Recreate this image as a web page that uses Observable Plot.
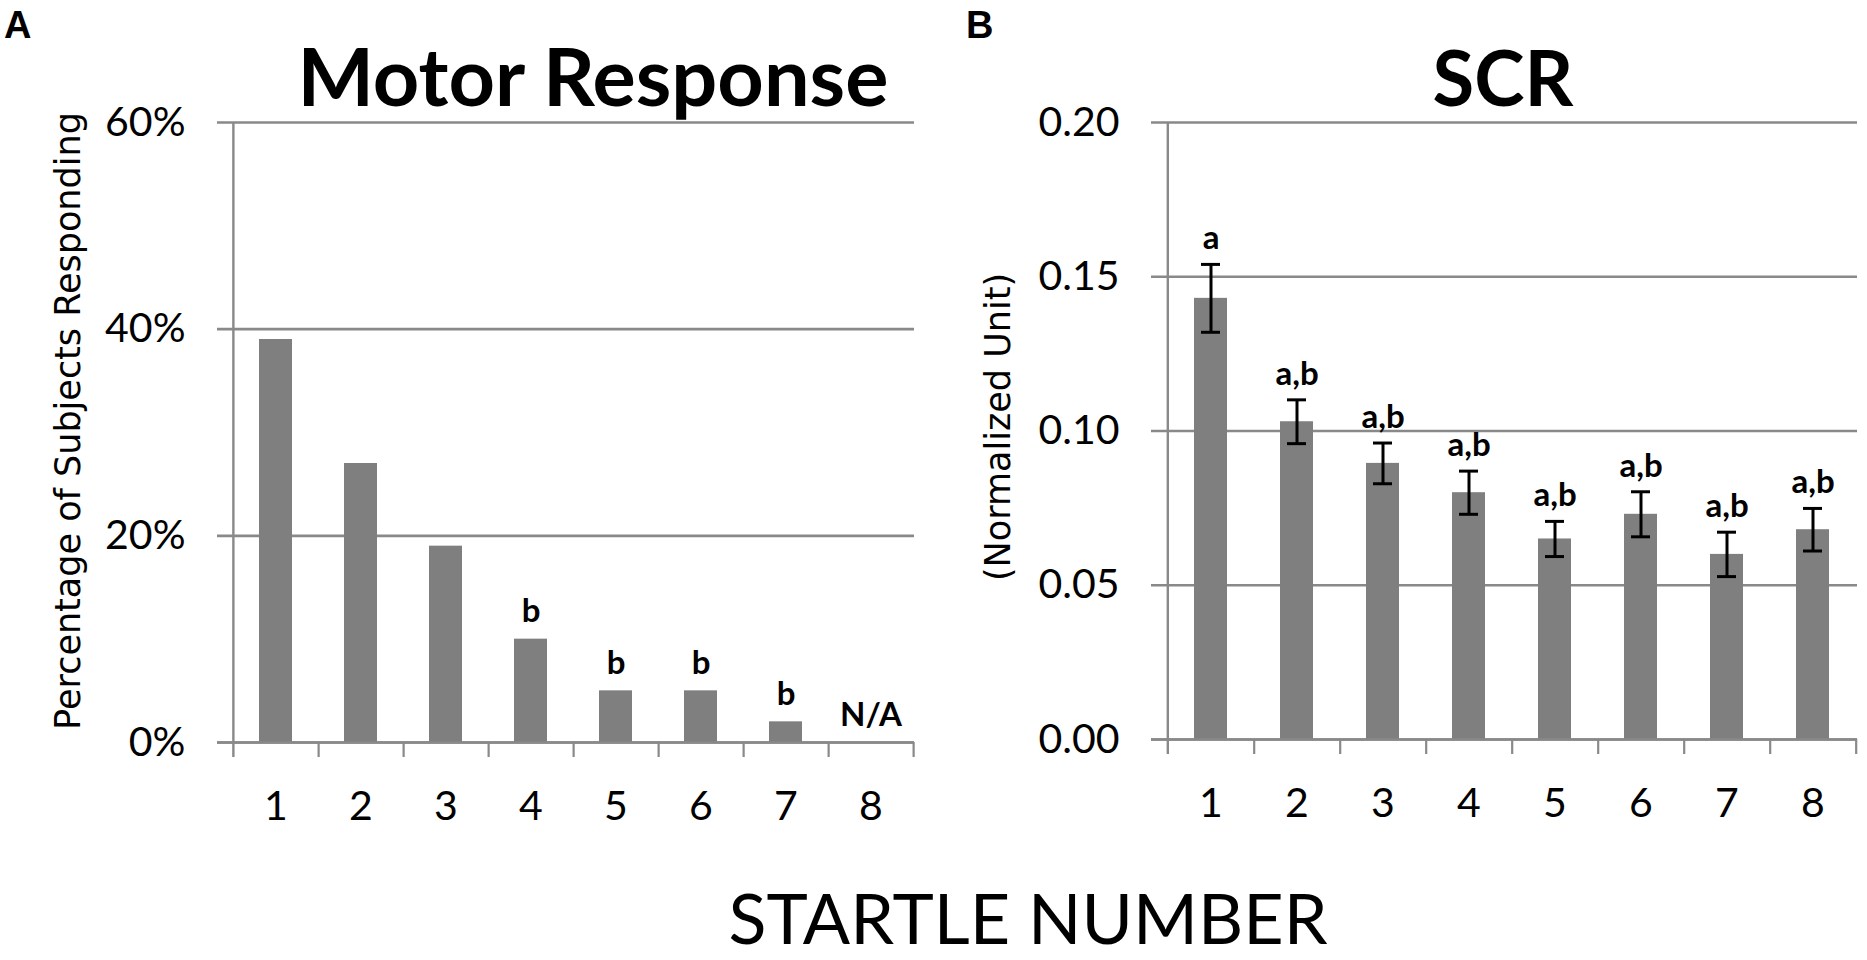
<!DOCTYPE html>
<html>
<head>
<meta charset="utf-8">
<script src="https://cdn.jsdelivr.net/npm/d3@7"></script>
<script src="https://cdn.jsdelivr.net/npm/@observablehq/plot@0.6"></script>
<style>
  html, body { margin: 0; padding: 0; background: #fff; }
  #root { position: relative; width: 1867px; height: 960px; overflow: hidden; background: #fff; }
  #overlay { position: absolute; left: 0; top: 0; }
</style>
</head>
<body>
<div id="root"></div>
<script>
// ---------- data ----------
const startle = [1, 2, 3, 4, 5, 6, 7, 8];

// Panel A: Motor Response (% of subjects responding)
const motorPct = [39, 27, 19, 10, 5, 5, 2, 0];
const motorLabels = ["", "", "", "b", "b", "b", "b", "N/A"];
const motorTicks = [0, 20, 40, 60];

// Panel B: SCR (normalized unit), mean and error
const scrMean = [0.143, 0.103, 0.0895, 0.080, 0.065, 0.073, 0.060, 0.068];
const scrErr = [0.011, 0.0071, 0.0066, 0.0070, 0.0057, 0.0073, 0.0072, 0.0069];
const scrLabels = ["a", "a,b", "a,b", "a,b", "a,b", "a,b", "a,b", "a,b"];
const scrTicks = [0, 0.05, 0.10, 0.15, 0.20];

// ---------- styling ----------
const gridColor = "#898989";
const barColor = "#7f7f7f";
const tickFont = 41;
const labelFont = 33;

const motorData = startle.map((n, i) => ({n, v: motorPct[i], label: motorLabels[i]}));
const scrData = startle.map((n, i) => ({n, v: scrMean[i], lo: scrMean[i] - scrErr[i], hi: scrMean[i] + scrErr[i], label: scrLabels[i]}));

const root = document.getElementById("root");

// ---------- Panel A ----------
{
  const width = 934, height = 840, mL = 232, mR = 20, mT = 122, mB = 98;
  const step = (width - mL - mR) / startle.length;
  const plot = Plot.plot({
    width, height,
    marginLeft: mL, marginRight: mR, marginTop: mT, marginBottom: mB,
    style: {position: "absolute", left: "0px", top: "0px", background: "transparent", fontFamily: "Lato", color: "#000", overflow: "visible"},
    x: {type: "band", domain: startle, paddingInner: 0.616, paddingOuter: 0.308},
    y: {domain: [0, 60]},
    marks: [
      Plot.ruleY(motorTicks, {y: d => d, stroke: gridColor, strokeWidth: 2.6, insetLeft: -15}),
      Plot.barY(motorData, {x: "n", y: "v", fill: barColor}),
      Plot.ruleY([0], {y: d => d, stroke: gridColor, strokeWidth: 2.6, insetLeft: -15}),
      Plot.ruleX([startle[0]], {x: d => d, y1: 60, y2: 0, dx: -step / 2, stroke: gridColor, strokeWidth: 2.4, insetBottom: -15}),
      Plot.ruleX(startle, {x: d => d, y1: 0, y2: 0, dx: step / 2, stroke: gridColor, strokeWidth: 2.2, insetBottom: -15}),
      Plot.text(motorData.filter(d => d.label), {x: "n", y: "v", text: "label", dy: -17, lineAnchor: "bottom", fontWeight: "bold", fontSize: labelFont, fontFamily: "Lato", fill: "#000"}),
      Plot.axisY({ticks: motorTicks, tickSize: 0, tickPadding: 47, tickFormat: d => d + "%", fontSize: tickFont, fontFamily: "Lato", label: null}),
      Plot.axisX({tickSize: 0, tickPadding: 48, fontSize: tickFont, fontFamily: "Lato", label: null})
    ]
  });
  root.appendChild(plot);
}

// ---------- Panel B ----------
{
  const width = 933, height = 840, mL = 232, mR = 10, mT = 122, mB = 101;
  const step = (width - mL - mR) / startle.length;
  const plot = Plot.plot({
    width, height,
    marginLeft: mL, marginRight: mR, marginTop: mT, marginBottom: mB,
    style: {position: "absolute", left: "934px", top: "0px", background: "transparent", fontFamily: "Lato", color: "#000", overflow: "visible"},
    x: {type: "band", domain: startle, paddingInner: 0.616, paddingOuter: 0.308},
    y: {domain: [0, 0.2]},
    marks: [
      Plot.ruleY(scrTicks, {y: d => d, stroke: gridColor, strokeWidth: 2.6, insetLeft: -15}),
      Plot.barY(scrData, {x: "n", y: "v", fill: barColor}),
      Plot.ruleY([0], {y: d => d, stroke: gridColor, strokeWidth: 2.6, insetLeft: -15}),
      Plot.ruleX([startle[0]], {x: d => d, y1: 0.2, y2: 0, dx: -step / 2, stroke: gridColor, strokeWidth: 2.4, insetBottom: -15}),
      Plot.ruleX(startle, {x: d => d, y1: 0, y2: 0, dx: step / 2, stroke: gridColor, strokeWidth: 2.2, insetBottom: -15}),
      Plot.ruleX(scrData, {x: "n", y1: "lo", y2: "hi", stroke: "#000", strokeWidth: 3}),
      Plot.tickY(scrData, {x: "n", y: "hi", stroke: "#000", strokeWidth: 3, inset: 7}),
      Plot.tickY(scrData, {x: "n", y: "lo", stroke: "#000", strokeWidth: 3, inset: 7}),
      Plot.text(scrData, {x: "n", y: "hi", text: "label", dy: -15, lineAnchor: "bottom", fontWeight: "bold", fontSize: labelFont, fontFamily: "Lato", fill: "#000"}),
      Plot.axisY({ticks: scrTicks, tickSize: 0, tickPadding: 47, tickFormat: d3.format(".2f"), fontSize: tickFont, fontFamily: "Lato", label: null}),
      Plot.axisX({tickSize: 0, tickPadding: 48, fontSize: tickFont, fontFamily: "Lato", label: null})
    ]
  });
  root.appendChild(plot);
}

// ---------- titles & labels ----------
const NS = "http://www.w3.org/2000/svg";
const overlay = document.createElementNS(NS, "svg");
overlay.setAttribute("id", "overlay");
overlay.setAttribute("width", 1867);
overlay.setAttribute("height", 960);
function addText(str, attrs) {
  const t = document.createElementNS(NS, "text");
  for (const [k, v] of Object.entries(attrs)) t.setAttribute(k, v);
  t.textContent = str;
  overlay.appendChild(t);
}
addText("A", {x: 4, y: 38, "font-family": "Liberation Sans, Arial, sans-serif", "font-weight": "bold", "font-size": 38});
addText("B", {x: 966, y: 38, "font-family": "Liberation Sans, Arial, sans-serif", "font-weight": "bold", "font-size": 38});
addText("Motor Response", {x: 593, y: 106, "text-anchor": "middle", "font-family": "Lato", "font-weight": "bold", "font-size": 81});
addText("SCR", {x: 1503, y: 106, "text-anchor": "middle", "font-family": "Lato", "font-weight": "bold", "font-size": 76});
addText("STARTLE NUMBER", {x: 1028, y: 944, "text-anchor": "middle", "font-family": "Lato", "font-size": 70});
addText("Percentage of Subjects Responding", {transform: "translate(80,421) rotate(-90)", "text-anchor": "middle", "font-family": "DejaVu Sans", "font-size": 35});
addText("(Normalized Unit)", {transform: "translate(1010,427) rotate(-90)", "text-anchor": "middle", "font-family": "DejaVu Sans", "font-size": 35});
root.appendChild(overlay);
</script>
</body>
</html>
